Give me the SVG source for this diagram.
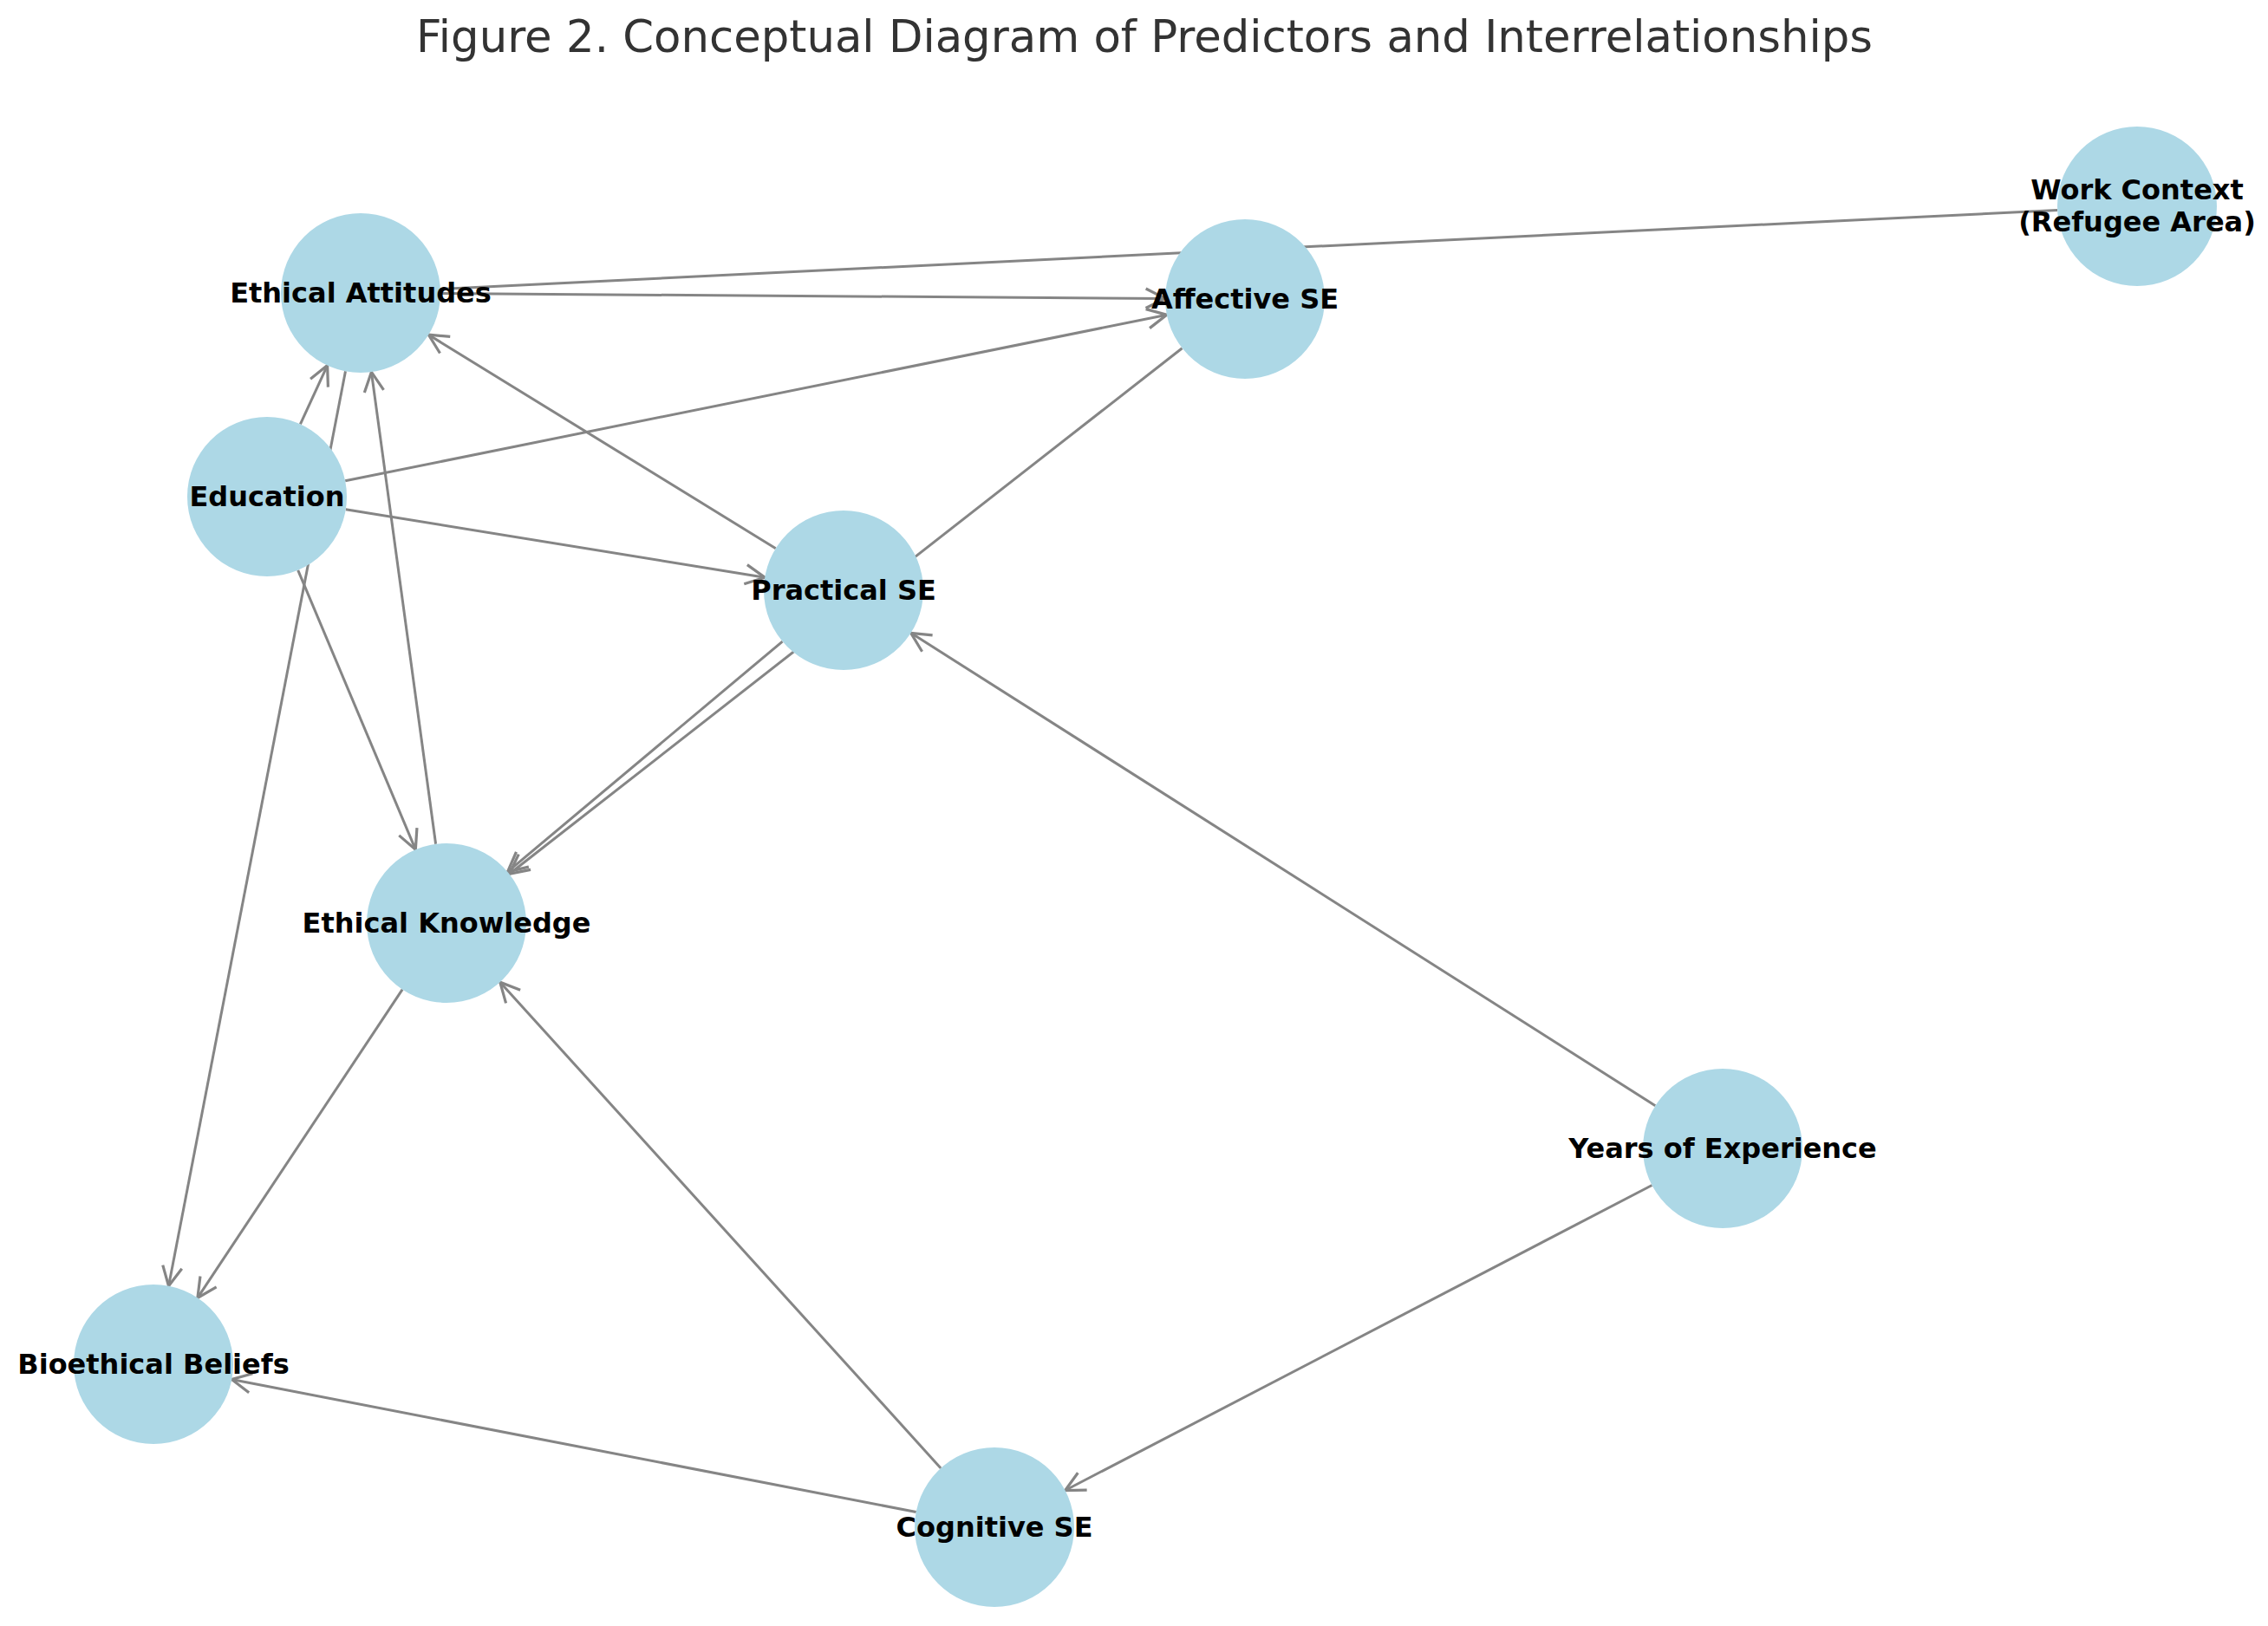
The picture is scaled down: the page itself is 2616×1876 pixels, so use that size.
<svg xmlns="http://www.w3.org/2000/svg" width="2616" height="1876" viewBox="0 0 2616 1876">
<defs>
<style>
.edge{stroke:#858585;stroke-width:3;fill:none}
.arr{marker-end:url(#ah)}
.node{fill:#ADD8E6}
.lbl{font-family:"DejaVu Sans",Verdana,sans-serif;font-weight:bold;font-size:32px;fill:#000;text-anchor:middle}
.title{font-family:"DejaVu Sans",Verdana,sans-serif;font-size:51.3px;fill:#333;text-anchor:middle}
</style>
<marker id="ah" markerUnits="userSpaceOnUse" markerWidth="32" markerHeight="32" viewBox="-26 -13 30 26" refX="0" refY="0" orient="auto">
<path d="M-21,-10.5 L0,0 L-21,10.5" fill="none" stroke="#858585" stroke-width="3"/>
</marker>
</defs>
<rect width="2616" height="1876" fill="#fff"/>
<text class="title" x="1320" y="60">Figure 2. Conceptual Diagram of Predictors and Interrelationships</text>
<g id="connectors">
<line class="edge" x1="2373" y1="242.5" x2="508" y2="333.5"/>
<line class="edge arr" x1="508" y1="338.6" x2="1344" y2="344.4"/>
<line class="edge arr" x1="346.4" y1="489.4" x2="377.6" y2="421.6"/>
<line class="edge arr" x1="398.5" y1="428.3" x2="194.5" y2="1483.7"/>
<line class="edge arr" x1="502.6" y1="973.8" x2="428.4" y2="429.2"/>
<line class="edge arr" x1="894.7" y1="632.8" x2="494.3" y2="386.2"/>
<line class="edge arr" x1="398.2" y1="554.8" x2="1345.8" y2="363.2"/>
<line class="edge arr" x1="398.8" y1="587.7" x2="882.2" y2="666.3"/>
<line class="edge arr" x1="343.7" y1="657.8" x2="479.3" y2="980.2"/>
<line class="edge arr" x1="1363.5" y1="401.7" x2="587.5" y2="1008.3"/>
<line class="edge arr" x1="902.5" y1="740.1" x2="585.5" y2="1005.9"/>
<line class="edge arr" x1="1909.3" y1="1275.7" x2="1050.7" y2="730.3"/>
<line class="edge arr" x1="1905.4" y1="1367.5" x2="1228.6" y2="1719.5"/>
<line class="edge arr" x1="1085.2" y1="1693.9" x2="576.8" y2="1133.2"/>
<line class="edge arr" x1="1056.7" y1="1744.5" x2="267.3" y2="1591.5"/>
<line class="edge arr" x1="464.1" y1="1141.6" x2="227.9" y2="1497.4"/>
</g>
<g id="node-ethical-attitudes"><circle class="node" cx="416" cy="338" r="92"/><text class="lbl" x="416" y="349">Ethical Attitudes</text></g>
<g id="node-affective-se"><circle class="node" cx="1436" cy="345" r="92"/><text class="lbl" x="1436" y="356">Affective SE</text></g>
<g id="node-work-context"><circle class="node" cx="2465" cy="238" r="92"/><text class="lbl" x="2465" y="230">Work Context</text><text class="lbl" x="2465" y="267">(Refugee Area)</text></g>
<g id="node-education"><circle class="node" cx="308" cy="573" r="92"/><text class="lbl" x="308" y="584">Education</text></g>
<g id="node-practical-se"><circle class="node" cx="973" cy="681" r="92"/><text class="lbl" x="973" y="692">Practical SE</text></g>
<g id="node-ethical-knowledge"><circle class="node" cx="515" cy="1065" r="92"/><text class="lbl" x="515" y="1076">Ethical Knowledge</text></g>
<g id="node-years-of-experience"><circle class="node" cx="1987" cy="1325" r="92"/><text class="lbl" x="1987" y="1336">Years of Experience</text></g>
<g id="node-bioethical-beliefs"><circle class="node" cx="177" cy="1574" r="92"/><text class="lbl" x="177" y="1585">Bioethical Beliefs</text></g>
<g id="node-cognitive-se"><circle class="node" cx="1147" cy="1762" r="92"/><text class="lbl" x="1147" y="1773">Cognitive SE</text></g>
</svg>
